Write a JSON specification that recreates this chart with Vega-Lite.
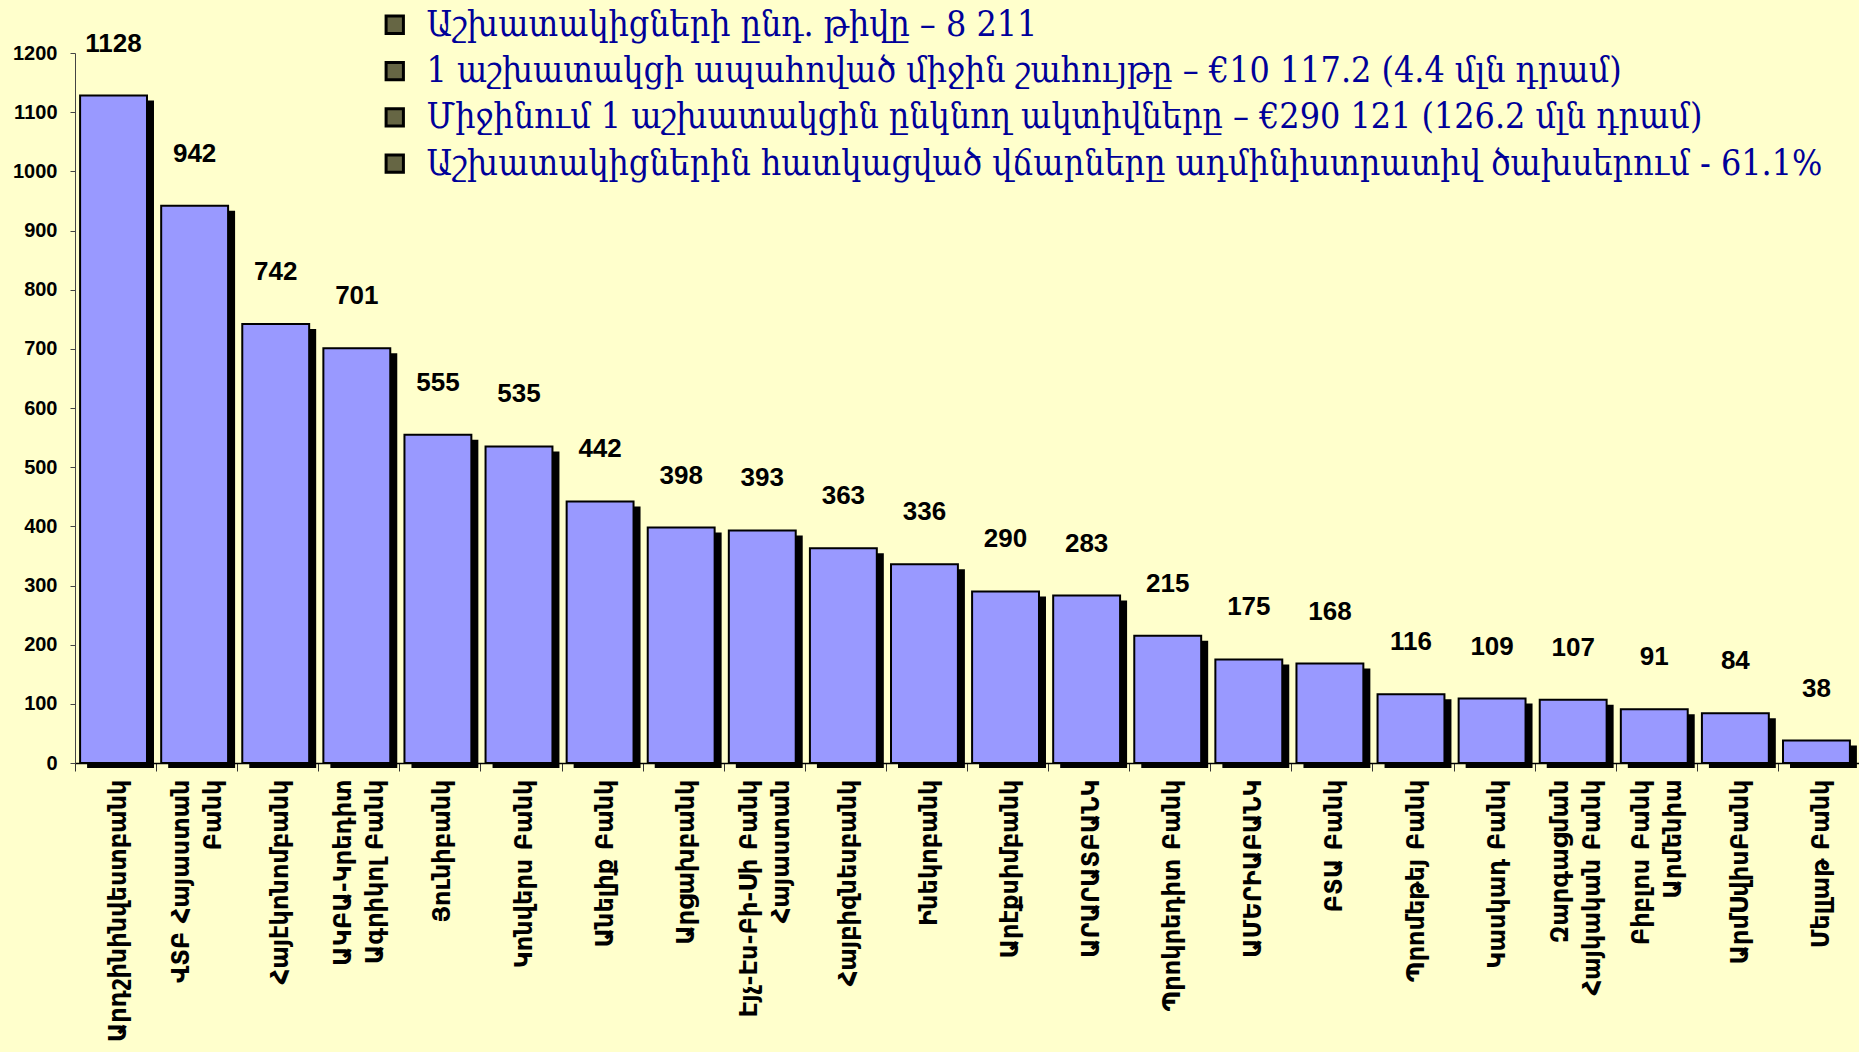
{
  "$schema": "https://vega.github.io/schema/vega-lite/v6.json",
  "autosize": "none",
  "width": 1784,
  "height": 710,
  "padding": {"left": 75, "top": 53, "right": 0, "bottom": 289},
  "background": "#FFFFCC",
  "config": {"view": {"stroke": null}},
  "datasets": {
    "banks": [
      {"bank": "Արդշինինվեստբանկ", "staff": 1128},
      {"bank": "ՎՏԲ Հայաստան\nԲանկ", "staff": 942},
      {"bank": "Հայէկոնոմբանկ", "staff": 742},
      {"bank": "ԱԿԲԱ-Կրեդիտ\nԱգրիկոլ Բանկ", "staff": 701},
      {"bank": "Յունիբանկ", "staff": 555},
      {"bank": "Կոնվերս Բանկ", "staff": 535},
      {"bank": "Անելիք Բանկ", "staff": 442},
      {"bank": "Արցախբանկ", "staff": 398},
      {"bank": "Էյչ-Էս-Բի-Սի Բանկ\nՀայաստան", "staff": 393},
      {"bank": "Հայբիզնեսբանկ", "staff": 363},
      {"bank": "Ինեկոբանկ", "staff": 336},
      {"bank": "Արէքսիմբանկ", "staff": 290},
      {"bank": "ԱՐԱՐԱՏԲԱՆԿ", "staff": 283},
      {"bank": "Պրոկրեդիտ Բանկ", "staff": 215},
      {"bank": "ԱՄԵՐԻԱԲԱՆԿ", "staff": 175},
      {"bank": "ԲՏԱ Բանկ", "staff": 168},
      {"bank": "Պրոմեթեյ Բանկ", "staff": 116},
      {"bank": "Կասկադ Բանկ", "staff": 109},
      {"bank": "Զարգացման\nՀայկական Բանկ", "staff": 107},
      {"bank": "Բիբլոս Բանկ\nԱրմենիա", "staff": 91},
      {"bank": "ԱրմՍվիսԲանկ", "staff": 84},
      {"bank": "Մելլաթ Բանկ", "staff": 38}
    ],
    "notes": [
      {"note": "Աշխատակիցների ընդ. թիվը – 8 211"},
      {"note": "1 աշխատակցի ապահոված միջին շահույթը – €10 117.2 (4.4  մլն դրամ)"},
      {"note": "Միջինում 1 աշխատակցին ընկնող ակտիվները – €290 121 (126.2 մլն դրամ)"},
      {"note": "Աշխատակիցներին հատկացված վճարները ադմինիստրատիվ ծախսերում - 61.1%"}
    ]
  },
  "layer": [
    {
      "data": {"name": "banks"},
      "mark": {"type": "bar", "color": "black", "width": {"band": 0.825}, "xOffset": 5, "x2Offset": 5, "yOffset": 5},
      "encoding": {
        "x": {
          "field": "bank", "type": "nominal", "sort": null, "title": null,
          "scale": {"paddingInner": 0, "paddingOuter": 0},
          "axis": {
            "labelAngle": -90,
            "labelExpr": "datum.value ? split(datum.value, '\\n') : ''",
            "labelFont": "DejaVu Sans",
            "labelFontWeight": "bold",
            "labelFontSize": 24,
            "labelLineHeight": 32,
            "labelColor": "black",
            "labelPadding": 8,
            "labelLimit": 400,
            "labelOffset": {"condition": {"test": "datum.value && indexof(datum.value, '\\n') >= 0", "value": -15}, "value": 3},
            "tickBand": "extent",
            "tickSize": 8,
            "tickColor": "#333333",
            "domainColor": "black",
            "domainWidth": 1.5
          }
        },
        "y": {
          "field": "staff", "type": "quantitative", "title": null,
          "scale": {"domain": [0, 1200]},
          "axis": {
            "values": [0, 100, 200, 300, 400, 500, 600, 700, 800, 900, 1000, 1100, 1200],
            "format": "d",
            "grid": false,
            "labelFont": "Liberation Sans",
            "labelFontWeight": "bold",
            "labelFontSize": 20,
            "labelColor": "black",
            "labelPadding": 13,
            "tickSize": 5,
            "tickColor": "#444444",
            "domainColor": "#444444"
          }
        }
      }
    },
    {
      "data": {"name": "banks"},
      "mark": {"type": "bar", "color": "#9999FF", "stroke": "black", "strokeWidth": 2, "width": {"band": 0.825}, "xOffset": -2, "x2Offset": -2},
      "encoding": {
        "x": {"field": "bank", "type": "nominal", "sort": null},
        "y": {"field": "staff", "type": "quantitative"}
      }
    },
    {
      "data": {"name": "banks"},
      "mark": {"type": "text", "font": "Liberation Sans", "fontWeight": "bold", "fontSize": 26, "color": "black", "baseline": "alphabetic", "dy": -44, "xOffset": -2},
      "encoding": {
        "x": {"field": "bank", "type": "nominal", "sort": null},
        "y": {"field": "staff", "type": "quantitative"},
        "text": {"field": "staff", "type": "quantitative"}
      }
    },
    {
      "data": {"name": "notes"},
      "mark": {"type": "square", "opacity": 0},
      "encoding": {
        "fill": {
          "field": "note", "type": "nominal",
          "scale": {
            "domain": [
              "Աշխատակիցների ընդ. թիվը – 8 211",
              "1 աշխատակցի ապահոված միջին շահույթը – €10 117.2 (4.4  մլն դրամ)",
              "Միջինում 1 աշխատակցին ընկնող ակտիվները – €290 121 (126.2 մլն դրամ)",
              "Աշխատակիցներին հատկացված վճարները ադմինիստրատիվ ծախսերում - 61.1%"
            ],
            "range": ["#666644", "#666644", "#666644", "#666644"]
          },
          "legend": {
            "title": null,
            "orient": "none",
            "legendX": 302,
            "legendY": -46,
            "padding": 0,
            "symbolType": "square",
            "symbolSize": 300,
            "symbolOpacity": 1,
            "symbolStrokeColor": "black",
            "symbolStrokeWidth": 3,
            "labelFont": "DejaVu Serif Condensed",
            "labelFontSize": 35.5,
            "labelColor": "#000099",
            "labelLimit": 2000,
            "labelOffset": 14,
            "rowPadding": 9.3
          }
        }
      }
    }
  ]
}
